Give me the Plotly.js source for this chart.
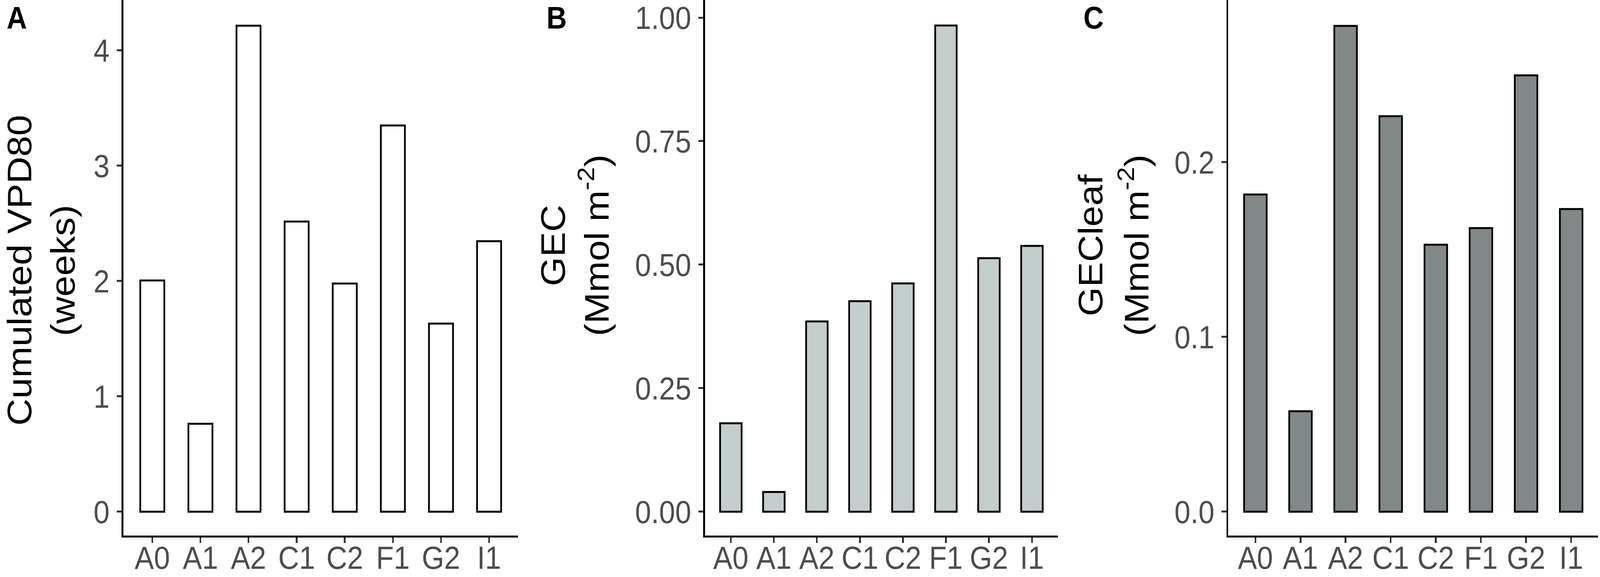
<!DOCTYPE html>
<html>
<head>
<meta charset="utf-8">
<script src="https://cdn.plot.ly/plotly-3.0.1.min.js"></script>
<style>
  html, body { margin: 0; padding: 0; background: #fff; overflow: hidden; }
  #chart { width: 4550px; height: 1476px; transform-origin: 0 0; }
</style>
</head>
<body>
<div id="chart"></div>
<script>
// sites on the x axis (same for all three panels)
var sites = ["A0", "A1", "A2", "C1", "C2", "F1", "G2", "I1"];

// panel A: cumulated VPD80 (weeks)
var vpd80 = [2.005, 0.763, 4.214, 2.516, 1.979, 3.349, 1.631, 2.346];
// panel B: GEC (Mmol m-2)
var gec = [0.179, 0.040, 0.385, 0.426, 0.462, 0.984, 0.513, 0.538];
// panel C: GECleaf (Mmol m-2)
var gecLeaf = [0.1815, 0.0575, 0.278, 0.2263, 0.1528, 0.1623, 0.2497, 0.1732];

var panelLetters = ["A", "B", "C"];
var titleLine1 = ["Cumulated VPD80", "GEC", "GECleaf"];
var titleLine2 = ["(weeks)", "(Mmol m<sup>-2</sup>)", "(Mmol m<sup>-2</sup>)"];

// the figure is laid out at 4550x1476 and then fitted to the real window
var W = 4550, H = 1476, B = 106;
var plotH = H - B;
var FONT = "Liberation Sans, Arial, sans-serif";

var chartDiv = document.getElementById("chart");
var sx = (window.innerWidth || W) / W;
var sy = (window.innerHeight || H) / H;
if (Math.abs(sx - 1) > 0.001 || Math.abs(sy - 1) > 0.001) {
  chartDiv.style.transform = "scale(" + sx + "," + sy + ")";
}

function px(x) { return x / W; }
function py(y) { return (plotH - y) / plotH; }

function barTrace(vals, fill, n) {
  return {
    type: "bar",
    x: sites,
    y: vals,
    width: 0.5,
    marker: { color: fill, line: { color: "#000000", width: 5 } },
    xaxis: n == 1 ? "x" : "x" + n,
    yaxis: n == 1 ? "y" : "y" + n,
    hoverinfo: "x+y",
    showlegend: false
  };
}

var data = [
  barTrace(vpd80, "#ffffff", 1),
  barTrace(gec, "#c3cdcc", 2),
  barTrace(gecLeaf, "#828888", 3)
];

function xAxis(d0, d1, anchor) {
  return {
    domain: [px(d0), px(d1)],
    anchor: anchor,
    type: "category",
    range: [-0.6, 7.6],
    showline: true, linecolor: "#000000", linewidth: 5,
    ticks: "outside", ticklen: 14, tickwidth: 5, tickcolor: "#333333",
    tickfont: { family: FONT, size: 82, color: "#4d4d4d" },
    ticklabelstandoff: -32,
    ticklabeloverflow: "allow",
    showgrid: false, zeroline: false, fixedrange: true
  };
}

function yAxis(range, tickvals, fmt, anchor) {
  return {
    domain: [0, 1],
    anchor: anchor,
    range: range,
    tickmode: "array",
    tickvals: tickvals,
    tickformat: fmt,
    showline: true, linecolor: "#000000", linewidth: 5,
    ticks: "outside", ticklen: 14, tickwidth: 5, tickcolor: "#333333",
    tickfont: { family: FONT, size: 82, color: "#4d4d4d" },
    ticklabelstandoff: 4,
    ticklabeloverflow: "allow",
    showgrid: false, zeroline: false, fixedrange: true
  };
}

// annotation positions in pixels (x of each title line, panel letters)
var letterX = [48, 1583, 3110];
var line1X = [55, 1573, 3102];
var line2X = [178, 1690, 3225];
var titleY = [692, 628, 628];

var annotations = [];
for (let i = 0; i < 3; i++) {
  annotations.push({
    xref: "paper", yref: "paper",
    x: px(letterX[i]), y: py(45),
    xanchor: "center", yanchor: "middle",
    text: "<b>" + panelLetters[i] + "</b>",
    showarrow: false,
    font: { family: FONT, size: 80, color: "#000000" }
  });
  annotations.push({
    xref: "paper", yref: "paper",
    x: px(line1X[i]), y: py(titleY[i]),
    xanchor: "center", yanchor: "middle",
    text: titleLine1[i], textangle: -90,
    showarrow: false,
    font: { family: FONT, size: 96, color: "#000000" }
  });
  annotations.push({
    xref: "paper", yref: "paper",
    x: px(line2X[i]), y: py(titleY[i]),
    xanchor: "center", yanchor: "middle",
    text: titleLine2[i], textangle: -90,
    showarrow: false,
    font: { family: FONT, size: 96, color: "#000000" }
  });
}

var layout = {
  width: W, height: H,
  margin: { l: 0, r: 0, t: 0, b: B, pad: 0 },
  paper_bgcolor: "#ffffff",
  plot_bgcolor: "#ffffff",
  bargap: 0,
  showlegend: false,
  xaxis: xAxis(351, 1473, "y"),
  yaxis: yAxis([-0.2068, 4.437], [0, 1, 2, 3, 4], "d", "x"),
  xaxis2: xAxis(2005, 3008, "y2"),
  yaxis2: yAxis([-0.0483, 1.0356], [0, 0.25, 0.5, 0.75, 1], ".2f", "x2"),
  xaxis3: xAxis(3493, 4545, "y3"),
  yaxis3: yAxis([-0.01365, 0.2928], [0, 0.1, 0.2], ".1f", "x3"),
  annotations: annotations
};

Plotly.newPlot(chartDiv, data, layout, { staticPlot: true, displayModeBar: false });
</script>
</body>
</html>
